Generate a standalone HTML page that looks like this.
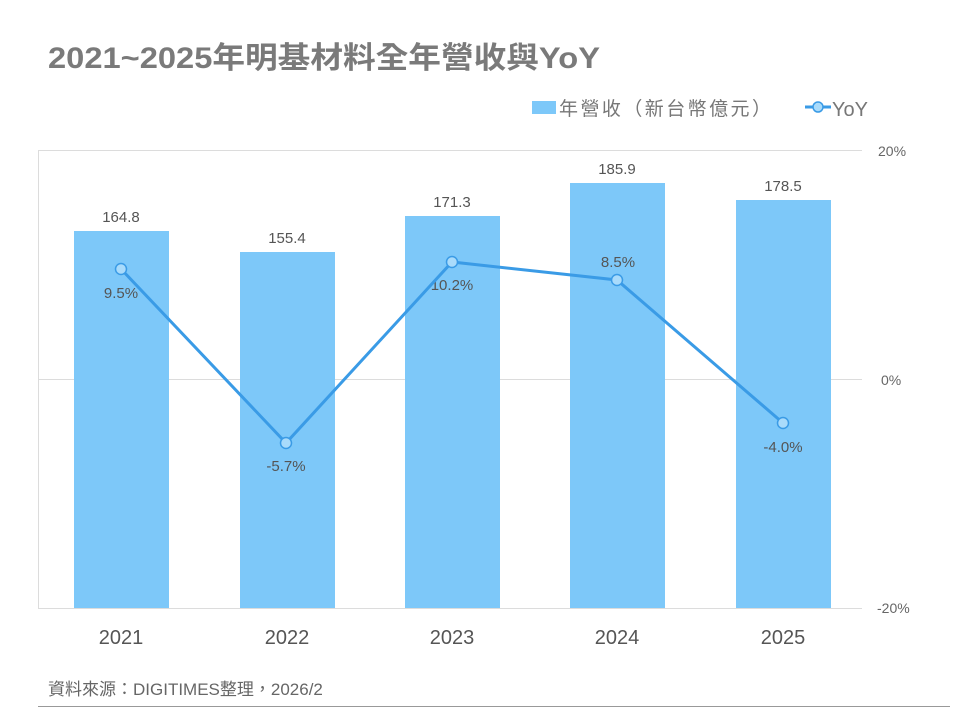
<!DOCTYPE html>
<html><head><meta charset="utf-8"><style>
html,body{margin:0;padding:0;background:#fff;}
svg{display:block;font-family:"Liberation Sans","Noto Sans CJK TC",sans-serif;}
</style></head><body>
<svg width="960" height="720" xmlns="http://www.w3.org/2000/svg">
<text x="48" y="68" font-size="30" font-weight="bold" fill="#7a7a7a" textLength="552" lengthAdjust="spacingAndGlyphs">2021~2025年明基材料全年營收與YoY</text>
<rect x="532" y="101" width="24" height="13" fill="#7dc8f9"/>
<text x="559" y="115" font-size="19" fill="#777" textLength="212" lengthAdjust="spacing">年營收（新台幣億元）</text>
<line x1="805" y1="107" x2="831" y2="107" stroke="#3a9be6" stroke-width="3"/>
<circle cx="818" cy="107" r="5" fill="#a9dbfb" stroke="#3a9be6" stroke-width="1.5"/>
<text x="832" y="116" font-size="20" fill="#777">YoY</text>
<path d="M38.5 608 V150.5 H862" fill="none" stroke="#dcdcdc"/>
<line x1="38" y1="379.5" x2="862" y2="379.5" stroke="#dcdcdc"/>
<line x1="38" y1="608.5" x2="862" y2="608.5" stroke="#dcdcdc"/>
<g font-size="14" fill="#666">
<text x="878" y="156">20%</text>
<text x="881" y="385">0%</text>
<text x="877" y="613">-20%</text>
</g>
<g fill="#7dc8f9">
<rect x="74" y="231" width="95" height="377"/>
<rect x="240" y="252" width="95" height="356"/>
<rect x="405" y="216" width="95" height="392"/>
<rect x="570" y="183" width="95" height="425"/>
<rect x="736" y="200" width="95" height="408"/>
</g>
<g font-size="15" fill="#555" text-anchor="middle">
<text x="121" y="222">164.8</text>
<text x="287" y="243">155.4</text>
<text x="452" y="207">171.3</text>
<text x="617" y="174">185.9</text>
<text x="783" y="191">178.5</text>
<text x="121" y="298">9.5%</text>
<text x="286" y="471">-5.7%</text>
<text x="452" y="290">10.2%</text>
<text x="618" y="267">8.5%</text>
<text x="783" y="452">-4.0%</text>
</g>
<polyline points="121,269 286,443 452,262 617,280 783,423" fill="none" stroke="#3a9be6" stroke-width="3"/>
<g fill="#a9dbfb" stroke="#3a9be6" stroke-width="1.5">
<circle cx="121" cy="269" r="5.5"/><circle cx="286" cy="443" r="5.5"/><circle cx="452" cy="262" r="5.5"/><circle cx="617" cy="280" r="5.5"/><circle cx="783" cy="423" r="5.5"/>
</g>
<g font-size="20" fill="#555" text-anchor="middle">
<text x="121" y="644">2021</text><text x="287" y="644">2022</text><text x="452" y="644">2023</text><text x="617" y="644">2024</text><text x="783" y="644">2025</text>
</g>
<text x="48" y="695" font-size="17" fill="#666">資料來源：DIGITIMES整理，2026/2</text>
<line x1="38" y1="706.5" x2="950" y2="706.5" stroke="#999"/>
</svg>
</body></html>
